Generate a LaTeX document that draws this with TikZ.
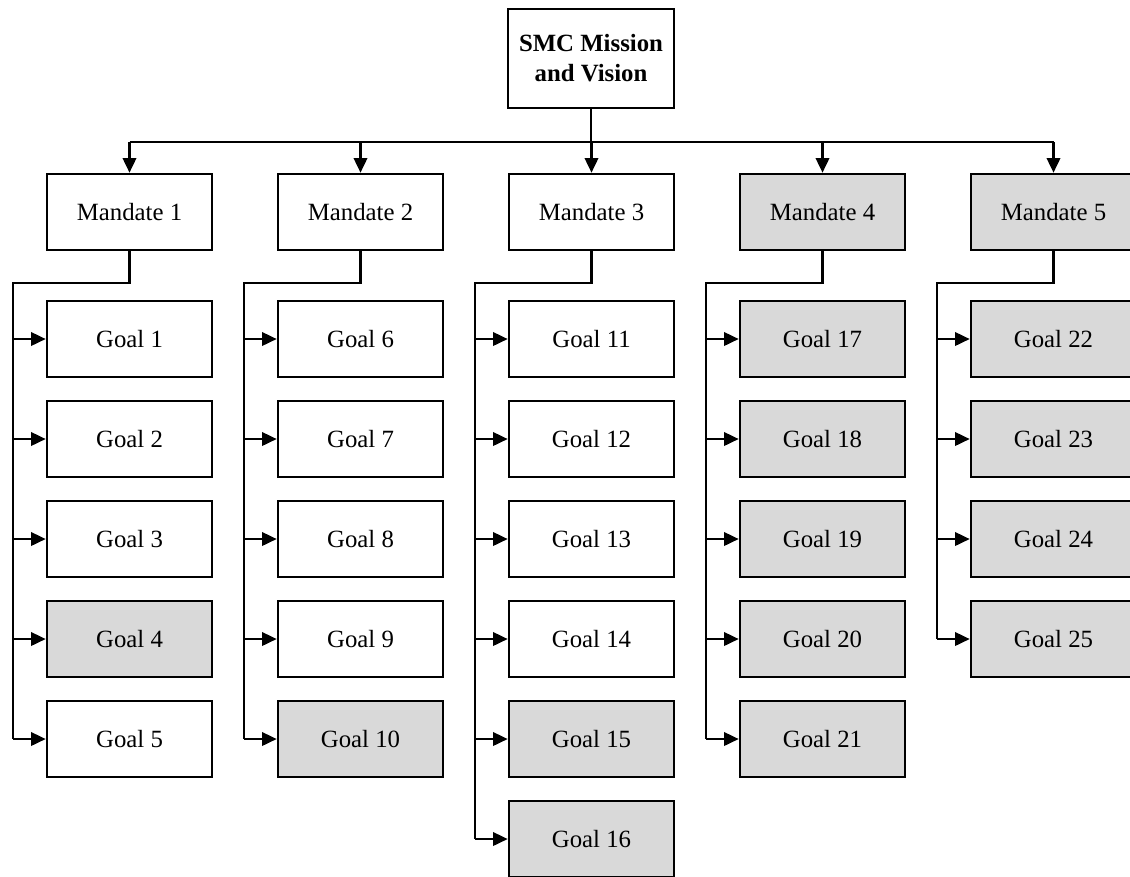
\documentclass[tikz,border=0pt]{standalone}
\usepackage{fontspec}
\setmainfont{Liberation Serif}
\usetikzlibrary{arrows.meta}

\definecolor{shade}{HTML}{D9D9D9}

\begin{document}
\begin{tikzpicture}[
  x=0.75pt, y=-0.75pt,
  font=\fontsize{18.6}{22.5}\selectfont,
  box/.style={draw=black, line width=1.9pt, fill=white, inner sep=0pt,
              minimum width=123.75pt, minimum height=57pt, align=center},
  grey/.style={box, fill=shade},
  link/.style={draw=black, line width=1.9pt},
  arr/.style={link, -{Triangle[length=11pt,width=10pt]}},
]
\clip (0,0) rectangle (1130,876);
\useasboundingbox (0,0) rectangle (1130,876);

% root
\node[box, minimum width=124.5pt, minimum height=74pt, font=\fontsize{18.6}{22.5}\selectfont\bfseries]
  (root) at (591,58.5) {SMC Mission\\and Vision};

% mandates
\node[box]  (m1) at (129.5,212) {Mandate 1};
\node[box]  (m2) at (360.5,212) {Mandate 2};
\node[box]  (m3) at (591.5,212) {Mandate 3};
\node[grey] (m4) at (822.5,212) {Mandate 4};
\node[grey] (m5) at (1053.5,212) {Mandate 5};

% goals, column 1
\node[box]  (g1)  at (129.5,339) {Goal 1};
\node[box]  (g2)  at (129.5,439) {Goal 2};
\node[box]  (g3)  at (129.5,539) {Goal 3};
\node[grey] (g4)  at (129.5,639) {Goal 4};
\node[box]  (g5)  at (129.5,739) {Goal 5};
% column 2
\node[box]  (g6)  at (360.5,339) {Goal 6};
\node[box]  (g7)  at (360.5,439) {Goal 7};
\node[box]  (g8)  at (360.5,539) {Goal 8};
\node[box]  (g9)  at (360.5,639) {Goal 9};
\node[grey] (g10) at (360.5,739) {Goal 10};
% column 3
\node[box]  (g11) at (591.5,339) {Goal 11};
\node[box]  (g12) at (591.5,439) {Goal 12};
\node[box]  (g13) at (591.5,539) {Goal 13};
\node[box]  (g14) at (591.5,639) {Goal 14};
\node[grey] (g15) at (591.5,739) {Goal 15};
\node[grey] (g16) at (591.5,839) {Goal 16};
% column 4
\node[grey] (g17) at (822.5,339) {Goal 17};
\node[grey] (g18) at (822.5,439) {Goal 18};
\node[grey] (g19) at (822.5,539) {Goal 19};
\node[grey] (g20) at (822.5,639) {Goal 20};
\node[grey] (g21) at (822.5,739) {Goal 21};
% column 5
\node[grey] (g22) at (1053.5,339) {Goal 22};
\node[grey] (g23) at (1053.5,439) {Goal 23};
\node[grey] (g24) at (1053.5,539) {Goal 24};
\node[grey] (g25) at (1053.5,639) {Goal 25};

% root to mandates
\coordinate (bus) at (591,142);
\draw[link] (root.south) -- (bus);
\draw[link] (bus -| m1.north) -- (bus -| m5.north);
\foreach \m in {m1,m2,m3,m4,m5}
  \draw[arr] (bus -| \m.north) -- (\m.north);

% mandates to goals: elbow, spine on the left, arrow into each goal
\foreach \m/\last/\goals in {m1/g5/{g1,g2,g3,g4,g5},
                             m2/g10/{g6,g7,g8,g9,g10},
                             m3/g16/{g11,g12,g13,g14,g15,g16},
                             m4/g21/{g17,g18,g19,g20,g21},
                             m5/g25/{g22,g23,g24,g25}}{
  \coordinate (spine-\m) at ([xshift=-87.4pt]\m.south |- 0,283);
  \draw[link] (\m.south) |- (spine-\m) -- (spine-\m |- \last.west);
  \foreach \g in \goals
    \draw[arr] (spine-\m |- \g.west) -- (\g.west);
}
\end{tikzpicture}
\end{document}
